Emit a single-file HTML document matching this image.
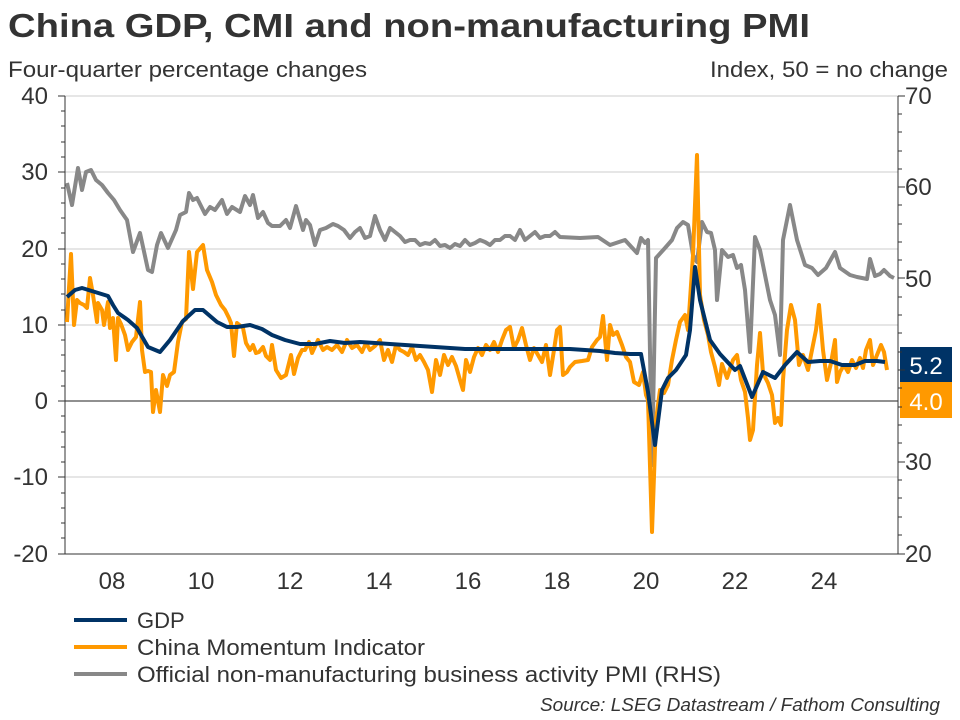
<!DOCTYPE html>
<html><head><meta charset="utf-8"><style>
body{margin:0;background:#fff;width:960px;height:720px;overflow:hidden;font-family:"Liberation Sans",Arial,sans-serif}
svg{position:absolute;left:0;top:0}
</style></head><body>
<svg width="960" height="720" viewBox="0 0 960 720" font-family="Liberation Sans, Arial, sans-serif">
<text x="8" y="37" font-size="33" font-weight="bold" fill="#333" textLength="802" lengthAdjust="spacingAndGlyphs">China GDP, CMI and non-manufacturing PMI</text>
<text x="8" y="77" font-size="22" fill="#333" textLength="359" lengthAdjust="spacingAndGlyphs">Four-quarter percentage changes</text>
<text x="710" y="77" font-size="22" fill="#333" textLength="238" lengthAdjust="spacingAndGlyphs">Index, 50 = no change</text>
<g stroke="#ccc" stroke-width="1">
<line x1="65" y1="96" x2="898" y2="96"/><line x1="65" y1="172" x2="898" y2="172"/><line x1="65" y1="249" x2="898" y2="249"/><line x1="65" y1="325" x2="898" y2="325"/><line x1="65" y1="477" x2="898" y2="477"/>
</g>
<line x1="65" y1="401" x2="898" y2="401" stroke="#222" stroke-width="1"/>
<g stroke="#333" stroke-width="1">
<line x1="65" y1="96" x2="65" y2="554"/><line x1="898" y1="96" x2="898" y2="554"/><line x1="65" y1="554" x2="898" y2="554"/>
</g>
<g font-size="24" fill="#333" text-anchor="end">
<text x="48" y="104">40</text><text x="48" y="180">30</text><text x="48" y="257">20</text><text x="48" y="333">10</text><text x="48" y="409">0</text><text x="48" y="485">-10</text><text x="48" y="562">-20</text>
</g>
<g font-size="24" fill="#333">
<text x="905" y="104">70</text><text x="905" y="195">60</text><text x="905" y="287">50</text><text x="905" y="470">30</text><text x="905" y="562">20</text>
</g>
<g font-size="24" fill="#333" text-anchor="middle">
<text x="112" y="589">08</text><text x="201" y="589">10</text><text x="290" y="589">12</text><text x="379" y="589">14</text><text x="468" y="589">16</text><text x="557" y="589">18</text><text x="646" y="589">20</text><text x="735" y="589">22</text><text x="824" y="589">24</text>
</g>
<g fill="none" stroke-width="4" stroke-linejoin="round">
<polyline stroke="#888" points="67,183 72,205 78,168 82,190 86,172 91,170 96,180 102,185 108,193 114,200 120,210 127,220 133,252 140,233 148,270 152,272 157,245 161,233 168,248 176,230 180,215 186,212 189,193 193,200 197,198 205,214 210,207 215,210 222,200 227,214 232,207 240,212 245,196 250,205 253,195 258,218 263,212 268,223 272,226 280,226 286,220 290,228 296,206 303,230 306,220 310,225 315,245 320,230 326,228 333,224 338,226 344,230 350,238 355,232 360,228 365,238 370,236 375,216 380,230 385,240 390,228 395,232 400,236 405,242 410,240 415,240 420,245 425,243 430,244 435,240 440,246 445,245 450,248 455,244 460,246 465,240 470,245 475,243 480,240 485,242 490,245 495,240 500,240 505,236 510,236 515,240 520,230 525,240 530,236 535,232 540,238 545,236 550,236 555,232 560,237 580,238 598,237 610,245 625,240 637,253 641,238 645,243 648,240 652,465 656,258 665,248 672,240 677,228 683,222 688,225 693,255 697,262 702,222 707,232 711,233 715,250 717,300 722,250 728,257 733,255 737,268 741,265 745,290 750,352 755,237 760,250 770,300 775,315 780,355 783,240 790,205 797,240 805,265 812,268 818,275 826,268 835,252 840,268 850,275 857,277 862,278 867,279 870,259 875,276 880,274 884,270 890,276 894,278"/>
<polyline stroke="#ff9900" points="67,322 71,254 74,325 77,300 80,303 84,305 87,308 90,278 93,295 97,322 98,303 102,310 104,325 108,302 110,328 113,318 116,360 118,318 121,324 125,335 128,350 132,342 136,337 140,302 142,350 145,372 148,371 151,372 153,412 156,390 160,412 163,375 167,386 170,375 174,372 178,342 182,322 186,319 189,252 193,289 197,252 203,245 207,270 212,282 216,295 221,305 225,310 229,318 231,323 234,356 237,323 243,328 246,343 250,350 253,345 256,353 259,352 263,347 266,356 270,360 272,345 276,370 281,378 286,375 291,355 294,374 298,358 302,350 305,350 309,342 312,353 318,340 323,350 327,347 332,350 337,345 342,352 347,340 352,348 357,345 362,352 366,343 370,350 375,346 380,340 384,360 388,350 392,362 396,345 400,350 404,352 408,355 412,347 416,360 420,355 424,362 428,370 432,392 436,360 440,375 444,355 448,365 452,357 456,366 460,380 463,390 466,360 470,372 474,357 478,348 482,355 486,345 490,350 494,342 498,352 502,340 506,330 510,327 514,348 518,340 522,328 526,345 530,360 534,348 538,355 542,362 546,345 550,375 554,350 557,330 560,327 563,375 567,372 570,367 575,362 582,361 588,360 592,347 597,340 600,337 603,316 607,360 610,325 613,335 617,332 622,345 626,357 630,362 634,382 639,385 643,372 646,395 648,400 652,532 656,420 660,390 664,393 668,385 672,360 676,340 680,322 685,315 688,330 693,255 697,155 700,295 704,320 708,335 711,352 715,367 719,385 722,364 727,378 733,360 737,355 741,380 745,392 748,418 750,440 753,430 757,365 760,333 763,373 768,383 772,395 775,423 778,418 781,425 783,380 787,330 791,305 795,320 799,365 803,355 808,370 812,350 816,330 819,305 823,350 827,380 831,363 835,340 837,382 840,372 844,365 848,372 852,360 856,368 860,358 863,368 866,350 870,340 873,365 877,355 881,345 884,352 887,370"/>
<polyline stroke="#003366" points="67,297 75,290 82,288 95,292 108,296 113,305 118,313 128,320 137,328 148,347 160,352 170,340 183,321 195,310 203,310 217,322 227,327 237,327 250,325 262,329 272,335 285,340 300,344 315,344 330,341 345,343 360,342 375,343 390,344 405,345 420,346 435,347 450,348 465,349 480,349 495,349 510,349 525,349 540,349 555,349 570,349 585,350 600,351 615,353 630,354 641,354 648,392 655,445 662,390 668,378 676,370 686,355 690,330 695,267 700,300 710,340 720,354 735,370 740,366 752,397 763,372 775,378 785,365 797,352 808,362 820,361 830,361 842,365 855,365 865,361 877,361 885,362"/>
</g>
<rect x="900" y="347" width="52" height="35" fill="#003366"/>
<text x="926" y="374" font-size="24" fill="#fff" text-anchor="middle">5.2</text>
<rect x="900" y="382" width="52" height="36" fill="#ff9900"/>
<text x="926" y="410" font-size="24" fill="#fff" text-anchor="middle">4.0</text>
<g stroke-width="4">
<line x1="74" y1="620" x2="127" y2="620" stroke="#003366"/>
<line x1="74" y1="647" x2="127" y2="647" stroke="#ff9900"/>
<line x1="74" y1="674" x2="127" y2="674" stroke="#888"/>
</g>
<g font-size="22" fill="#333">
<text x="137" y="628">GDP</text>
<text x="137" y="655" textLength="288" lengthAdjust="spacingAndGlyphs">China Momentum Indicator</text>
<text x="137" y="682" textLength="584" lengthAdjust="spacingAndGlyphs">Official non-manufacturing business activity PMI (RHS)</text>
</g>
<text x="940" y="711" font-size="18" font-style="italic" fill="#333" text-anchor="end" textLength="400" lengthAdjust="spacingAndGlyphs">Source: LSEG Datastream / Fathom Consulting</text>
<g stroke="#333" stroke-width="1">
<path d="M58,96H65M58,172H65M58,249H65M58,325H65M58,401H65M58,477H65M58,554H65"/>
<path d="M61,111H65M61,126H65M61,142H65M61,157H65M61,188H65M61,203H65M61,218H65M61,233H65M61,264H65M61,279H65M61,294H65M61,310H65M61,340H65M61,355H65M61,371H65M61,386H65M61,416H65M61,432H65M61,447H65M61,462H65M61,493H65M61,508H65M61,523H65M61,538H65"/>
<path d="M898,96H905M898,187H905M898,278H905M898,370H905M898,462H905M898,554H905"/>
<path d="M898,114H902M898,132H902M898,151H902M898,169H902M898,205H902M898,224H902M898,242H902M898,260H902M898,297H902M898,315H902M898,333H902M898,352H902M898,388H902M898,407H902M898,425H902M898,443H902M898,480H902M898,498H902M898,517H902M898,535H902"/>
</g>
<g stroke="#333" stroke-width="1" id="xt"></g>
<script>
var g=document.getElementById('xt'),s='';
for(var q=-4;q<=70;q++){var x=113+q*11.125;if(x<66||x>897)continue;var L=(q%8==0)?8:4;s+='<line x1="'+x+'" y1="554" x2="'+x+'" y2="'+(554+L)+'"/>';}
g.innerHTML=s;
</script>
</svg>
</body></html>
